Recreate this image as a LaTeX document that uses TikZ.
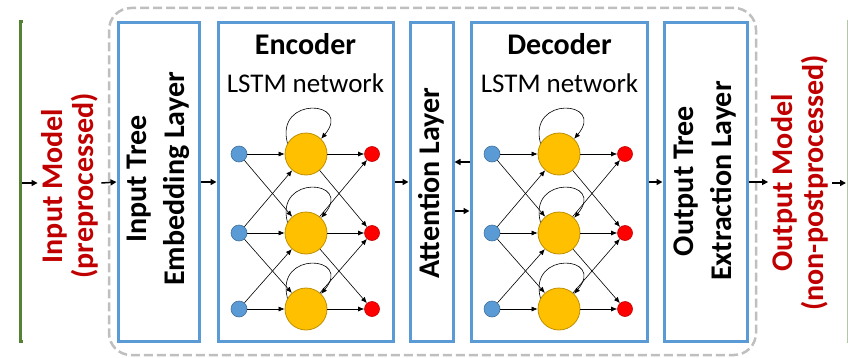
\documentclass[tikz,border=0pt]{standalone}
\usepackage{fontspec}
\setmainfont{Carlito}
\usetikzlibrary{arrows.meta}

\definecolor{layerblue}{HTML}{5B9BD5}
\definecolor{modelred}{HTML}{C00000}
\definecolor{srcgreen}{HTML}{548235}
\definecolor{cellfill}{HTML}{FFC000}
\definecolor{celldraw}{HTML}{BF9000}
\definecolor{indraw}{HTML}{41719C}

\tikzset{
  layer/.style={draw=layerblue, line width=3pt, minimum height=318pt, inner sep=0pt},
  layertext/.style={rotate=90, align=center, font=\bfseries\fontsize{30}{38}\selectfont},
  modeltext/.style={rotate=90, align=center, text=modelred, font=\bfseries\fontsize{30}{31}\selectfont},
  nettitle/.style={anchor=base, font=\bfseries\fontsize{30}{36}\selectfont},
  netsub/.style={anchor=base, font=\fontsize{27}{32}\selectfont},
  flow/.style={line width=1.5pt, -{Triangle[length=6pt,width=6pt]}},
  link/.style={line width=0.6pt, -{Latex[length=6pt,width=5pt]}},
  inunit/.style={circle, fill=layerblue, draw=indraw, line width=0.6pt, minimum size=16pt, inner sep=0pt},
  cell/.style={circle, fill=cellfill, draw=celldraw, line width=0.8pt, minimum size=42pt, inner sep=0pt},
  outunit/.style={circle, fill=red, draw=modelred, line width=0.6pt, minimum size=15pt, inner sep=0pt}
}

\begin{document}
\begin{tikzpicture}[x=1pt, y=1pt]
  \useasboundingbox (0,0) rectangle (848,357);

  % model boundary
  \node[draw=gray!50, line width=2.5pt, dash pattern=on 9pt off 4pt, rounded corners=22pt,
        minimum width=647pt, minimum height=347pt, inner sep=0pt] (seq2seq) at (432.5,175.5) {};

  % source and target lines
  \draw[srcgreen, line width=3pt] (23,335) -- (20,335) -- (20,16) -- (23,16);
  \draw[srcgreen!45, line width=1pt] (847,337) -- (847,14);
  \coordinate (src) at (21.5,174);
  \coordinate (sink) at (846,174);

  % layers
  \node[layer, minimum width=81pt] (emb) at (158.5,175) {};
  \node[layer, minimum width=175pt] (enc) at (305.5,175) {};
  \node[layer, minimum width=43pt] (att) at (431.5,175) {};
  \node[layer, minimum width=176pt] (dec) at (559,175) {};
  \node[layer, minimum width=83pt] (ext) at (705.5,175) {};

  \node[layertext] (embtxt) at (158.5,178) {Input Tree\\Embedding Layer};
  \node[layertext] (atttxt) at (431.5,174) {Attention Layer};
  \node[layertext] (exttxt) at (705.5,176) {Output Tree\\Extraction Layer};

  \node[modeltext] (inmodel) at (69.5,171) {Input Model\\(preprocessed)};
  \node[modeltext] (outmodel) at (800,174) {Output Model\\(non-postprocessed)};

  \node[nettitle] (enctitle) at (305.5,302) {Encoder};
  \node[netsub] (encsub) at (305.5,265) {LSTM network};
  \node[nettitle] (dectitle) at (559.5,302) {Decoder};
  \node[netsub] (decsub) at (559.5,265) {LSTM network};

  % LSTM networks
  \foreach \net/\x in {e/239, d/492} {
    \foreach \r/\y in {1/203, 2/124, 3/48} {
      \node[inunit] (\net-i\r) at (\x,\y) {};
      \node[cell] (\net-c\r) at (\x+67,\y) {};
      \node[outunit] (\net-o\r) at (\x+133,\y) {};
    }
    \foreach \r in {1,2,3} {
      \draw[link] (\net-i\r) -- (\net-c\r);
      \draw[link] (\net-c\r) -- (\net-o\r);
      \draw[link] (\net-c\r.150) .. controls +(105:50) and +(50:50) .. (\net-c\r.45);
    }
    \foreach \r/\s in {1/2, 2/3} {
      \draw[link] (\net-i\r) -- (\net-c\s);
      \draw[link] (\net-i\s) -- (\net-c\r);
      \draw[link] (\net-c\r) -- (\net-o\s);
      \draw[link] (\net-c\s) -- (\net-o\r);
    }
  }

  % data flow
  \draw[flow] (src) -- (src -| inmodel.north);
  \draw[flow] (src -| inmodel.south) -- (emb.west);
  \draw[flow] (emb.east) -- (enc.west);
  \draw[flow] (enc.east) -- (att.west);
  \draw[flow] ([yshift=20pt]dec.west) -- ([yshift=20pt]att.east);
  \draw[flow] ([yshift=-29pt]att.east) -- ([yshift=-29pt]dec.west);
  \draw[flow] (dec.east) -- (ext.west);
  \draw[flow] (ext.east) -- (ext.east -| outmodel.north);
  \draw[flow] (sink -| outmodel.south) -- (sink);
\end{tikzpicture}
\end{document}
